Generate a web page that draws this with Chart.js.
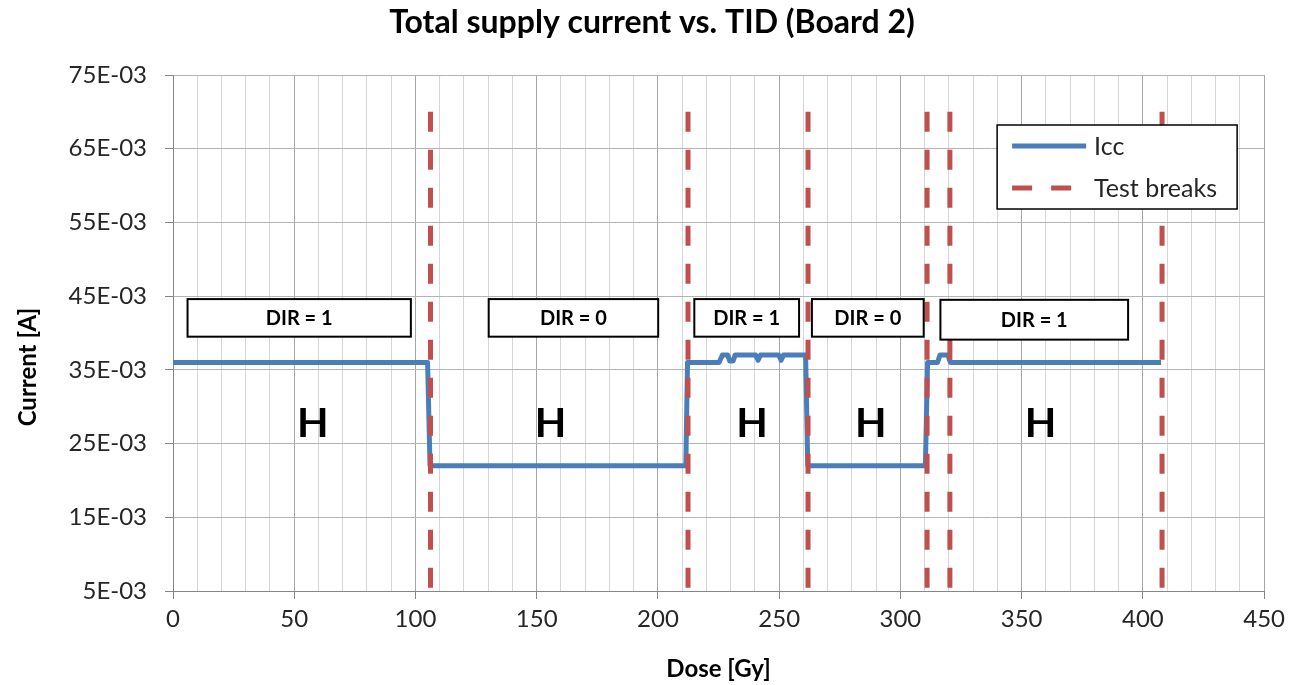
<!DOCTYPE html>
<html>
<head>
<meta charset="utf-8">
<script src="https://cdn.jsdelivr.net/npm/chart.js@4.4.1/dist/chart.umd.min.js"></script>
<style>
  html, body { margin: 0; padding: 0; background: #fff; }
</style>
</head>
<body>
<canvas id="chart" width="1291" height="685"></canvas>
<script>
// Icc vs dose (Gy, A)
var doseIcc = [0, 105, 106, 211.5, 212.2, 225.2, 226.6, 228.8, 229.6, 231, 231.8, 240.3, 241.3, 242.3,
  249.8, 250.8, 251.8, 260.9, 261.8, 310.3, 311.2, 315.3, 316.3, 319.6, 320.6, 407.5];
var icc = [0.036, 0.036, 0.022, 0.022, 0.036, 0.036, 0.037, 0.037, 0.0362, 0.0362, 0.037, 0.037, 0.0363, 0.037,
  0.037, 0.0363, 0.037, 0.037, 0.022, 0.022, 0.036, 0.036, 0.037, 0.037, 0.036, 0.036];

// test breaks (Gy)
var breakDoses = [106.2, 212.4, 261.9, 311, 320.4, 407.9];
var breakTop = 0.070;
var breakBottom = 0.005;

// DIR boxes and H markers
var dirLabels = ['DIR = 1', 'DIR = 0', 'DIR = 1', 'DIR = 0', 'DIR = 1'];
var dirFrom = [6, 130.2, 215, 263.5, 316.5];
var dirTo = [98.1, 200.1, 258.2, 309.6, 393.9];
var dirHigh = [0.0446, 0.0446, 0.0446, 0.0446, 0.0445];
var dirLow = [0.0395, 0.0395, 0.0395, 0.0395, 0.0391];
var stateDoses = [57.7, 155.7, 238.8, 287.8, 357.8];
var stateLevel = 0.028;

var iccPoints = doseIcc.map(function(d, i) { return {x: d, y: icc[i]}; });
var breakPoints = [];
breakDoses.forEach(function(d) {
  breakPoints.push({x: d, y: breakTop});
  breakPoints.push({x: d, y: breakBottom});
  breakPoints.push({x: d, y: null});
});

Chart.defaults.font.family = 'Lato, "Open Sans", sans-serif';
Chart.defaults.color = '#262626';

var blue = '#4a7ebb';
var red = '#c0504d';

var overlay = {
  id: 'overlay',
  afterDatasetsDraw: function(chart) {
    var ctx = chart.ctx;
    var xs = chart.scales.x;
    var ys = chart.scales.y;
    var area = chart.chartArea;
    ctx.save();

    // title
    ctx.fillStyle = '#000';
    ctx.font = 'bold 32px Lato, sans-serif';
    ctx.textAlign = 'center';
    ctx.textBaseline = 'middle';
    ctx.fillText('Total supply current vs. TID (Board 2)', 652, 23);

    // DIR boxes
    dirLabels.forEach(function(t, i) {
      var x0 = xs.getPixelForValue(dirFrom[i]);
      var x1 = xs.getPixelForValue(dirTo[i]);
      var y0 = ys.getPixelForValue(dirHigh[i]);
      var y1 = ys.getPixelForValue(dirLow[i]);
      ctx.fillStyle = '#fff';
      ctx.fillRect(x0, y0, x1 - x0, y1 - y0);
      ctx.strokeStyle = '#000';
      ctx.lineWidth = 2;
      ctx.strokeRect(x0, y0, x1 - x0, y1 - y0);
      ctx.fillStyle = '#000';
      ctx.font = 'bold 20px Lato, sans-serif';
      ctx.fillText(t, (x0 + x1) / 2, (y0 + y1) / 2 + 1);
    });

    // H labels
    ctx.font = 'bold 41px Lato, sans-serif';
    ctx.fillStyle = '#000';
    stateDoses.forEach(function(d) {
      ctx.fillText('H', xs.getPixelForValue(d), ys.getPixelForValue(stateLevel) + 2);
    });

    // y axis title (sits a bit below the middle, as in the original)
    ctx.save();
    ctx.translate(28, area.top + (area.bottom - area.top) * 0.566);
    ctx.rotate(-Math.PI / 2);
    ctx.font = 'bold 24px Lato, sans-serif';
    ctx.fillText('Current [A]', 0, 0);
    ctx.restore();

    // legend
    var lx = area.right - 267;
    var ly = area.top + 50;
    ctx.fillStyle = '#fff';
    ctx.fillRect(lx, ly, 240, 84);
    ctx.strokeStyle = '#000';
    ctx.lineWidth = 1.5;
    ctx.strokeRect(lx, ly, 240, 84);

    ctx.lineWidth = 5;
    ctx.strokeStyle = blue;
    ctx.beginPath();
    ctx.moveTo(lx + 15, ly + 21);
    ctx.lineTo(lx + 89, ly + 21);
    ctx.stroke();

    ctx.strokeStyle = red;
    ctx.beginPath();
    ctx.moveTo(lx + 15, ly + 63);
    ctx.lineTo(lx + 35, ly + 63);
    ctx.moveTo(lx + 54, ly + 63);
    ctx.lineTo(lx + 74, ly + 63);
    ctx.stroke();

    ctx.fillStyle = '#262626';
    ctx.font = '25px Lato, sans-serif';
    ctx.textAlign = 'left';
    ctx.fillText('Icc', lx + 97, ly + 22);
    ctx.fillText('Test breaks', lx + 97, ly + 64);
    ctx.restore();
  }
};

var chart = new Chart(document.getElementById('chart'), {
  type: 'line',
  data: {
    datasets: [{
      label: 'Test breaks',
      data: breakPoints,
      borderColor: red,
      borderWidth: 5,
      borderDash: [20, 18],
      pointRadius: 0,
      spanGaps: false
    }, {
      label: 'Icc',
      data: iccPoints,
      borderColor: blue,
      borderWidth: 5,
      borderJoinStyle: 'round',
      pointRadius: 0
    }]
  },
  options: {
    responsive: false,
    animation: false,
    layout: {
      padding: {left: 0, right: 26, top: 75, bottom: 0}
    },
    plugins: {
      legend: {display: false},
      tooltip: {enabled: false},
      title: {display: false}
    },
    scales: {
      x: {
        type: 'linear',
        min: 0,
        max: 450,
        afterFit: function(scale) { scale.height = 94; },
        border: {color: '#868686', width: 1},
        grid: {
          color: function(c) { return c.tick && c.tick.value % 50 === 0 ? '#a6a6a6' : '#d6d6d6'; },
          tickColor: function(c) { return c.tick && c.tick.value % 50 === 0 ? '#868686' : 'rgba(0,0,0,0)'; },
          tickLength: 8
        },
        ticks: {
          stepSize: 10,
          autoSkip: false,
          maxRotation: 0,
          padding: 6,
          font: {size: 24},
          callback: function(v) { return v % 50 === 0 ? v : ''; }
        },
        title: {
          display: true,
          text: 'Dose [Gy]',
          color: '#000',
          font: {size: 24, weight: 'bold'},
          padding: {top: 0, bottom: 1}
        }
      },
      y: {
        min: 0.005,
        max: 0.075,
        afterFit: function(scale) { scale.width = 173; },
        border: {color: '#868686', width: 1},
        grid: {
          color: '#b4b4b4',
          tickColor: '#868686',
          tickLength: 8
        },
        ticks: {
          stepSize: 0.01,
          padding: 18,
          font: {size: 24},
          callback: function(v) { return Math.round(v * 1000) + 'E-03'; }
        },
        title: {display: false}
      }
    }
  },
  plugins: [overlay]
});
</script>
</body>
</html>
